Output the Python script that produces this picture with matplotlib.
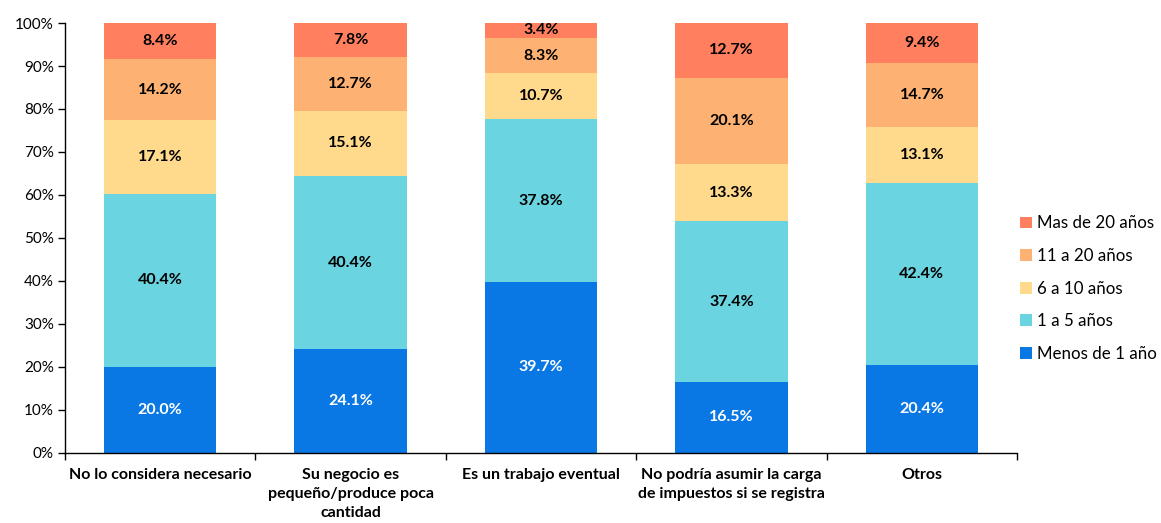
import numpy as np
import matplotlib
matplotlib.use('Agg')
import matplotlib.pyplot as plt
from matplotlib.ticker import PercentFormatter, FixedLocator

categories = ["No lo considera necesario",
              "Su negocio es\npequeño/produce poca\ncantidad",
              "Es un trabajo eventual",
              "No podría asumir la carga\nde impuestos si se registra",
              "Otros"]
series_names = ["Menos de 1 año", "1 a 5 años", "6 a 10 años", "11 a 20 años", "Mas de 20 años"]
menos_1 = [20.0, 24.1, 39.7, 16.5, 20.4]
de_1_a_5 = [40.4, 40.4, 37.8, 37.4, 42.4]
de_6_a_10 = [17.1, 15.1, 10.7, 13.3, 13.1]
de_11_a_20 = [14.2, 12.7, 8.3, 20.1, 14.7]
mas_20 = [8.4, 7.8, 3.4, 12.7, 9.4]

colors = ["#0A78E4", "#6AD4E0", "#FFD98C", "#FDB273", "#FF7F5F"]
label_colors = ["white", "black", "black", "black", "black"]

plt.rcParams['font.family'] = ['Lato', 'DejaVu Sans']

data = np.array([menos_1, de_1_a_5, de_6_a_10, de_11_a_20, mas_20])
# 100% stacked: scale so each column sums to 100
heights = data / data.sum(axis=0) * 100

fig = plt.figure(figsize=(11.61, 5.23), dpi=100)
ax = fig.add_axes([0.056, 0.134, 0.82, 0.822])

x = np.arange(len(categories))
bottom = np.zeros(len(categories))
handles = []
for i, name in enumerate(series_names):
    bars = ax.bar(x, heights[i], 0.59, bottom=bottom, color=colors[i], label=name)
    handles.append(bars)
    for j in range(len(categories)):
        ax.text(x[j], bottom[j] + heights[i][j] / 2, f"{data[i][j]:.1f}%",
                ha='center', va='center', fontsize=11.5, fontweight='bold',
                color=label_colors[i])
    bottom += heights[i]

ax.set_xlim(-0.5, len(categories) - 0.5)
ax.set_ylim(0, 100)
ax.yaxis.set_major_locator(FixedLocator(np.arange(0, 101, 10)))
ax.yaxis.set_major_formatter(PercentFormatter(decimals=0))
ax.set_xticks(x)
ax.set_xticklabels(categories, fontsize=11.5, fontweight='bold', va='top', linespacing=1.45)
ax.set_xticks(np.arange(-0.5, len(categories)), minor=True)
ax.tick_params(axis='x', which='major', length=0, pad=11)
ax.tick_params(axis='x', which='minor', length=5, width=1)
ax.tick_params(axis='y', length=5, width=1, labelsize=11, pad=3)

for s in ['top', 'right']:
    ax.spines[s].set_visible(False)
ax.spines['left'].set_linewidth(1)
ax.spines['bottom'].set_linewidth(1)

fig.legend(handles[::-1], series_names[::-1], loc='center left',
           bbox_to_anchor=(1020 / 1161, 0.448), bbox_transform=fig.transFigure,
           frameon=False, fontsize=12.2, handlelength=0.7, handleheight=0.7,
           handletextpad=0.3, labelspacing=0.98, borderpad=0, borderaxespad=0)

fig.savefig("out.png", dpi=100)
